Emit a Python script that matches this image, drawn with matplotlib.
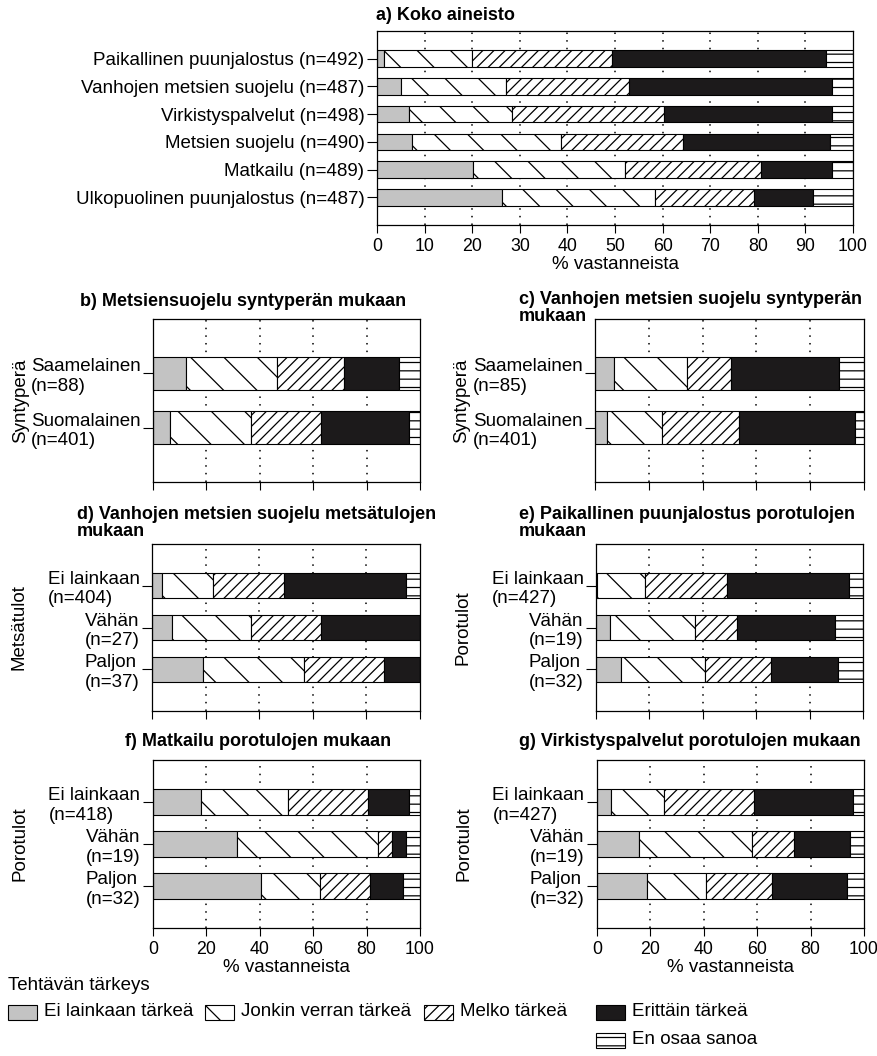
import numpy as np
import matplotlib.pyplot as plt
from matplotlib.patches import Rectangle

plt.rcParams['font.family'] = ['Liberation Sans', 'DejaVu Sans']
plt.rcParams['hatch.linewidth'] = 0.9

W, H = 877, 1056

importance = ['Ei lainkaan tärkeä', 'Jonkin verran tärkeä', 'Melko tärkeä',
              'Erittäin tärkeä', 'En osaa sanoa']

# a) whole data
a_labels = ['Paikallinen puunjalostus (n=492)', 'Vanhojen metsien suojelu (n=487)',
            'Virkistyspalvelut (n=498)', 'Metsien suojelu (n=490)',
            'Matkailu (n=489)', 'Ulkopuolinen puunjalostus (n=487)']
a_values = [[1.5, 18.4, 29.5, 44.9, 5.7],
            [5.1, 22.1, 25.7, 42.6, 4.5],
            [6.8, 21.5, 31.9, 35.3, 4.5],
            [7.3, 31.3, 25.6, 31.0, 4.8],
            [20.2, 31.9, 28.5, 14.9, 4.5],
            [26.3, 32.0, 20.9, 12.3, 8.5]]

origin_labels_b = ['Saamelainen\n(n=88)', 'Suomalainen\n(n=401)']
b_values = [[12.5, 34.1, 25.0, 20.5, 8.0],
            [6.3, 30.4, 26.3, 33.0, 4.0]]

origin_labels_c = ['Saamelainen\n(n=85)', 'Suomalainen\n(n=401)']
c_values = [[7.1, 27.1, 16.5, 40.0, 9.4],
            [4.3, 20.5, 28.6, 43.3, 3.3]]

d_labels = ['Ei lainkaan\n(n=404)', 'Vähän\n(n=27)', 'Paljon\n(n=37)']
d_values = [[3.9, 18.9, 26.3, 45.8, 5.1],
            [7.4, 29.6, 25.9, 37.0, 0.0],
            [18.9, 37.8, 29.7, 13.5, 0.0]]

e_labels = ['Ei lainkaan\n(n=427)', 'Vähän\n(n=19)', 'Paljon\n(n=32)']
e_values = [[0.5, 17.9, 30.5, 45.7, 5.4],
            [5.3, 31.6, 15.8, 36.8, 10.5],
            [9.4, 31.3, 25.0, 25.0, 9.3]]

f_labels = ['Ei lainkaan\n(n=418)', 'Vähän\n(n=19)', 'Paljon\n(n=32)']
f_values = [[18.1, 32.5, 30.0, 15.3, 4.1],
            [31.6, 52.6, 5.3, 5.3, 5.2],
            [40.6, 21.9, 18.75, 12.5, 6.25]]

g_labels = ['Ei lainkaan\n(n=427)', 'Vähän\n(n=19)', 'Paljon\n(n=32)']
g_values = [[5.4, 19.6, 33.8, 37.0, 4.2],
            [15.8, 42.1, 15.8, 21.1, 5.2],
            [18.75, 21.9, 25.0, 28.1, 6.25]]

faces = ['#c3c3c3', 'white', 'white', '#1c1a1b', 'white']
hatches = [None, '\\', '///', None, '--']
FS = 13.5
NFS = 12.8
TFS = 13


def box(left, right, top, bottom):
    return [left / W, 1 - bottom / H, (right - left) / W, (bottom - top) / H]


def stacked(rect, labels, values, step, numbers, ylabel=None):
    ax = fig.add_axes(box(*rect))
    vals = np.array(values)
    y = np.arange(len(labels))
    left = np.zeros(len(labels))
    for j in range(5):
        ax.barh(y, vals[:, j], left=left, height=0.6, color=faces[j],
                hatch=hatches[j], edgecolor='black', linewidth=0.8, zorder=2)
        left += vals[:, j]
    for x in range(step, 100, step):
        ax.axvline(x, color='black', lw=1.1, ls=(0, (1, 4)), zorder=1)
    ax.set_xlim(0, 100)
    ax.set_ylim(len(labels), -1)
    ax.set_yticks(y)
    ax.set_yticklabels(labels, fontsize=FS)
    for t in ax.get_yticklabels():
        t.set_multialignment('left')
    ax.set_xticks(range(0, 101, step))
    if numbers:
        ax.set_xticklabels([str(v) for v in range(0, 101, step)], fontsize=NFS)
        ax.set_xlabel('% vastanneista', fontsize=FS, labelpad=1)
    else:
        ax.set_xticklabels([])
    ax.tick_params(axis='y', direction='out', length=7, width=0.8, pad=2)
    ax.tick_params(axis='x', direction='out', length=6, width=0.8, pad=3)
    for s in ax.spines.values():
        s.set_linewidth(0.9)
    if ylabel:
        ax.set_ylabel(ylabel, fontsize=FS)
        ax.yaxis.set_label_coords(-0.465, 0.5)
    return ax


fig = plt.figure(figsize=(W / 100, H / 100), dpi=100)

stacked((377, 853, 31, 225), a_labels, a_values, 10, True)
stacked((153, 420, 319, 482), origin_labels_b, b_values, 20, False, 'Syntyperä')
stacked((595, 864, 319, 482), origin_labels_c, c_values, 20, False, 'Syntyperä')
stacked((152, 420, 544, 711), d_labels, d_values, 20, False, 'Metsätulot')
stacked((596, 863, 544, 711), e_labels, e_values, 20, False, 'Porotulot')
stacked((153, 420, 760, 928), f_labels, f_values, 20, True, 'Porotulot')
stacked((597, 864, 760, 928), g_labels, g_values, 20, True, 'Porotulot')


def title(x, y, s):
    fig.text(x / W, 1 - y / H, s, fontsize=TFS, fontweight='bold',
             ha='left', va='center', linespacing=1.05)


title(376, 15, 'a) Koko aineisto')
title(80, 301, 'b) Metsiensuojelu syntyperän mukaan')
title(519, 308, 'c) Vanhojen metsien suojelu syntyperän\nmukaan')
title(77, 523, 'd) Vanhojen metsien suojelu metsätulojen\nmukaan')
title(519, 523, 'e) Paikallinen puunjalostus porotulojen\nmukaan')
title(125, 742, 'f) Matkailu porotulojen mukaan')
title(519, 742, 'g) Virkistyspalvelut porotulojen mukaan')

fig.text(8 / W, 1 - 985 / H, 'Tehtävän tärkeys', fontsize=FS, va='center')

leg_x = [8, 205, 424, 596, 596]
leg_y = [1012, 1012, 1012, 1012, 1040]
for j in range(5):
    fig.add_artist(Rectangle((leg_x[j] / W, 1 - (leg_y[j] + 7.5) / H),
                             29 / W, 15 / H, transform=fig.transFigure,
                             facecolor=faces[j], hatch=hatches[j],
                             edgecolor='black', linewidth=0.8))
    fig.text((leg_x[j] + 36) / W, 1 - leg_y[j] / H, importance[j],
             fontsize=FS, va='center')

fig.savefig('out.png', dpi=100)
